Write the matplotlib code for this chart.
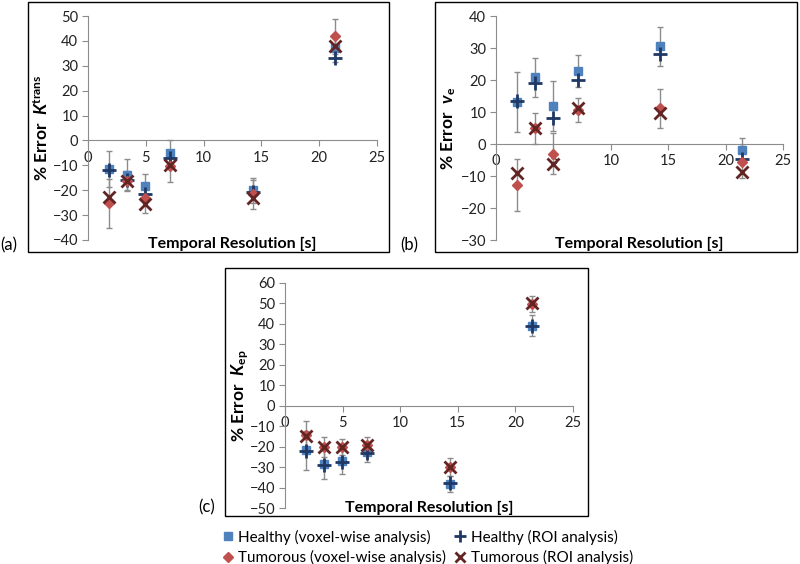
import matplotlib
matplotlib.use("Agg")
import matplotlib.pyplot as plt
from matplotlib.patches import Rectangle
from matplotlib.lines import Line2D

plt.rcParams['font.family'] = ['Lato', 'DejaVu Sans']
plt.rcParams['mathtext.fontset'] = 'custom'
plt.rcParams['mathtext.rm'] = 'Lato'
plt.rcParams['mathtext.it'] = 'Lato:italic'
plt.rcParams['mathtext.bf'] = 'Lato:bold'
plt.rcParams['mathtext.bfit'] = 'Lato:italic:bold'

# temporal resolution [s]
t_res = [1.85, 3.4, 4.95, 7.1, 14.3, 21.4]

# (a) % error Ktrans
ktrans_h_vox = [-11.6, -13.7, -18.3, -5.0, -20.0, 37.2]
ktrans_h_roi = [-11.9, -15.7, -21.4, -7.0, -20.7, 33.0]
ktrans_t_vox = [-25.3, -16.3, -23.0, -10.3, -21.7, 41.9]
ktrans_t_roi = [-22.8, -16.3, -25.4, -10.0, -23.3, 37.9]
ktrans_h_err = [7.3, 6.3, 5.0, 5.0, 5.0, 5.5]
ktrans_t_err = [9.7, 4.0, 6.0, 6.4, 5.8, 7.0]

# (b) % error ve
ve_h_vox = [13.2, 20.8, 11.9, 22.9, 30.5, -1.9]
ve_h_roi = [13.5, 19.0, 8.0, 19.9, 28.0, -4.8]
ve_t_vox = [-12.8, 4.9, -3.1, 10.6, 11.1, -5.5]
ve_t_roi = [-9.2, 4.9, -6.4, 11.4, 9.6, -8.6]
ve_h_err = [9.3, 6.2, 7.7, 5.0, 6.0, 3.8]
ve_t_err = [8.0, 4.8, 6.4, 3.7, 6.2, 5.0]

# (c) % error kep
kep_h_vox = [-21.7, -28.6, -27.1, -22.5, -38.4, 39.2]
kep_h_roi = [-22.0, -29.0, -27.5, -23.0, -38.0, 39.0]
kep_t_vox = [-14.4, -20.1, -20.1, -19.3, -29.9, 49.8]
kep_t_roi = [-14.6, -20.0, -20.0, -19.0, -30.0, 50.0]
kep_h_err = [9.5, 7.0, 6.5, 5.0, 4.0, 5.0]
kep_t_err = [7.0, 5.0, 4.0, 4.0, 4.5, 4.0]

legend_labels = ['Healthy (voxel-wise analysis)', 'Healthy (ROI analysis)',
                 'Tumorous (voxel-wise analysis)', 'Tumorous (ROI analysis)']

C_HV = '#4F81BD'
C_HR = '#1F3864'
C_TV = '#C0504D'
C_TR = '#632523'
C_AX = '#8C8C8C'

W, H = 800, 564
fig = plt.figure(figsize=(8, 5.64), dpi=100)


def fx(x):
    return x / W


def fy(y):
    return 1 - y / H


def panel(box, axpos, yticks, ylabel, ylab_x, letter, letter_xy, xlab_y,
          hv, hr, tv, tr, herr, terr):
    x0, y0, x1, y1 = box
    fig.add_artist(Rectangle((fx(x0), fy(y1)), fx(x1 - x0), (y1 - y0) / H,
                             transform=fig.transFigure, fill=False,
                             edgecolor='black', lw=1.0))
    l, t, r, b = axpos
    ax = fig.add_axes([fx(l), fy(b), fx(r - l), (b - t) / H])
    ax.errorbar(t_res, hv, yerr=herr, fmt='none', ecolor=C_AX, elinewidth=1,
                capsize=2.5, capthick=1, zorder=2)
    ax.errorbar(t_res, tv, yerr=terr, fmt='none', ecolor=C_AX, elinewidth=1,
                capsize=2.5, capthick=1, zorder=2)
    ax.plot(t_res, hv, ls='none', marker='s', ms=5.5, color=C_HV, zorder=3)
    ax.plot(t_res, hr, ls='none', marker='+', ms=10, mew=2, color=C_HR, zorder=4)
    ax.plot(t_res, tv, ls='none', marker='D', ms=5.5, color=C_TV, zorder=5)
    ax.plot(t_res, tr, ls='none', marker='x', ms=8, mew=2, color=C_TR, zorder=6)
    ax.set_xlim(0, 25)
    ax.set_ylim(yticks[0], yticks[-1])
    ax.set_xticks([0, 5, 10, 15, 20, 25])
    ax.set_yticks(yticks)
    ax.patch.set_alpha(0)
    for s in ['top', 'right']:
        ax.spines[s].set_visible(False)
    ax.spines['bottom'].set_position(('data', 0))
    ax.spines['left'].set_color(C_AX)
    ax.spines['bottom'].set_color(C_AX)
    ax.tick_params(axis='both', colors=C_AX, labelcolor='#222222',
                   labelsize=10.5, length=4, width=0.8)
    ax.tick_params(axis='y', pad=3)
    fig.text(fx(ylab_x), fy((t + b) / 2), ylabel, rotation=90, ha='center',
             va='center', fontsize=12.5, fontweight='bold')
    fig.text(fx((l + r) / 2), fy(xlab_y), 'Temporal Resolution [s]',
             ha='center', va='center', fontsize=11.5, fontweight='bold')
    fig.text(fx(letter_xy[0]), fy(letter_xy[1]), letter, ha='left',
             va='center', fontsize=12)
    return ax


panel((28, 2, 389, 252), (88, 16, 377, 240), list(range(-40, 51, 10)),
      r'% Error  $\mathbfit{K}^{\mathbf{trans}}$', 42, '(a)', (0, 245), 244,
      ktrans_h_vox, ktrans_h_roi, ktrans_t_vox, ktrans_t_roi,
      ktrans_h_err, ktrans_t_err)
panel((435, 2, 797, 252), (496, 16, 783, 240), list(range(-30, 41, 10)),
      r'% Error  $\mathbfit{v}_{\mathbf{e}}$', 449, '(b)', (400, 245), 244,
      ve_h_vox, ve_h_roi, ve_t_vox, ve_t_roi, ve_h_err, ve_t_err)
panel((225, 268, 588, 516), (285, 283, 573, 508), list(range(-50, 61, 10)),
      r'% Error  $\mathbfit{K}_{\mathbf{ep}}$', 240, '(c)', (198, 507), 508,
      kep_h_vox, kep_h_roi, kep_t_vox, kep_t_roi, kep_h_err, kep_t_err)

handles = [
    Line2D([], [], ls='none', marker='s', ms=5.5, color=C_HV),
    Line2D([], [], ls='none', marker='D', ms=5, color=C_TV),
    Line2D([], [], ls='none', marker='+', ms=9, mew=2, color=C_HR),
    Line2D([], [], ls='none', marker='x', ms=7, mew=2, color=C_TR),
]
labels = [legend_labels[0], legend_labels[2], legend_labels[1], legend_labels[3]]
fig.legend(handles, labels, loc='upper left', bbox_to_anchor=(fx(211), fy(519)),
           ncol=2, frameon=False, fontsize=11, handlelength=0.8,
           handletextpad=0.3, columnspacing=0.5, labelspacing=0.35,
           borderpad=0.2)

fig.savefig('out.png', dpi=100)
